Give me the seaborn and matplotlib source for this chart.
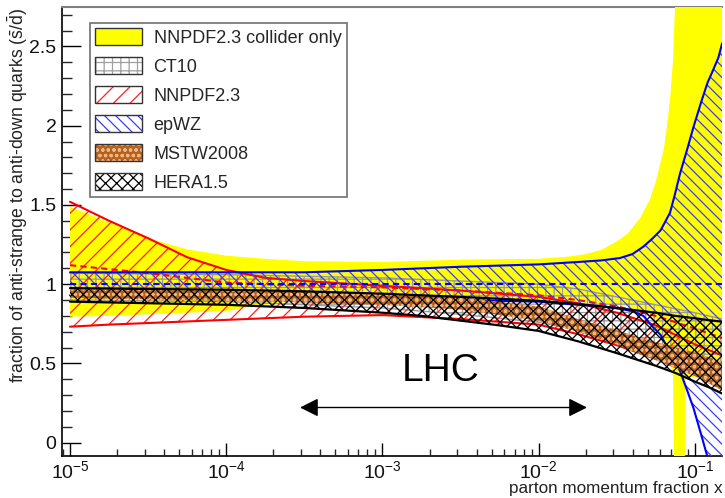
import numpy as np
import pandas as pd
import matplotlib
matplotlib.use("Agg")
import matplotlib.pyplot as plt
import seaborn as sns
from matplotlib.patches import Patch
from matplotlib.ticker import MultipleLocator, FuncFormatter, LogLocator

# ---------------- data (log10 x, ratio values) -------------
coll_logx = [-5, -4.75, -4.5, -4.25, -4, -3.75, -3.5, -3, -2.5, -2, -1.8, -1.7, -1.6, -1.5,
             -1.43, -1.35, -1.29, -1.25, -1.2, -1.18, -1.16, -1.14, -1.13, -1.065, -1.06,
             -1.0, -0.826]
coll_hi = [1.49, 1.39, 1.29, 1.22, 1.18, 1.16, 1.145, 1.14, 1.155, 1.16, 1.175, 1.19, 1.216,
           1.27, 1.32, 1.42, 1.53, 1.65, 1.85, 1.99, 2.16, 2.42, 2.7, 4.0, 4.0, 4.0, 4.0]
coll_lo = [0.795, 0.80, 0.81, 0.82, 0.83, 0.87, 0.90, 0.93, 0.92, 0.90, 0.89, 0.885, 0.88,
           0.87, 0.86, 0.83, 0.80, 0.72, 0.62, 0.56, 0.50, 0.42, -0.5, -0.5, 0.42, 0.41, 0.40]

ct10_logx = [-5, -4, -3, -2.5, -2, -1.75, -1.5, -1.25, -1, -0.826]
ct10_hi = [1.07, 1.06, 1.04, 1.02, 1.00, 0.97, 0.92, 0.87, 0.82, 0.78]
ct10_lo = [0.90, 0.89, 0.85, 0.81, 0.76, 0.71, 0.64, 0.56, 0.46, 0.38]

nnpdf_logx = [-5, -4.75, -4.5, -4.25, -4, -3.75, -3.5, -3, -2.5, -2, -1.75, -1.5, -1.25, -1, -0.826]
nnpdf_hi = [1.52, 1.40, 1.29, 1.17, 1.09, 1.04, 1.02, 0.99, 0.96, 0.92, 0.88, 0.82, 0.74, 0.62, 0.55]
nnpdf_lo = [0.732, 0.745, 0.755, 0.765, 0.775, 0.785, 0.795, 0.805, 0.78, 0.745, 0.685, 0.615, 0.53, 0.43, 0.34]
nnpdf_mid = [1.12, 1.095, 1.07, 1.04, 1.01, 1.0, 0.99, 0.98, 0.96, 0.93, 0.90, 0.86, 0.80, 0.72, 0.66]

epwz_logx = [-5, -4, -3.5, -3, -2.5, -2, -1.75, -1.6, -1.48, -1.4, -1.33, -1.27, -1.22, -1.16,
             -1.13, -1.095, -1.05, -1.01, -0.96, -0.92, -0.88, -0.85, -0.826]
epwz_hi = [1.075, 1.075, 1.075, 1.09, 1.11, 1.125, 1.14, 1.15, 1.165, 1.19, 1.237, 1.29, 1.34,
           1.45, 1.56, 1.70, 1.85, 1.99, 2.15, 2.27, 2.36, 2.43, 2.52]
epwz_lo = [0.93, 0.93, 0.92, 0.91, 0.90, 0.89, 0.87, 0.86, 0.845, 0.83, 0.80, 0.73, 0.68,
           0.57, 0.51, 0.45, 0.33, 0.22, 0.05, -0.09, -0.22, -0.35, -0.45]
epwz_mid = [1.0] * len(epwz_logx)

mstw_logx = [-5, -4, -3.5, -3, -2.5, -2, -1.75, -1.5, -1.375, -1.25, -1, -0.826]
mstw_hi = [0.975, 0.955, 0.95, 0.94, 0.915, 0.86, 0.78, 0.71, 0.67, 0.635, 0.57, 0.51]
mstw_lo = [0.915, 0.895, 0.885, 0.87, 0.84, 0.77, 0.70, 0.62, 0.565, 0.52, 0.42, 0.33]

hera_logx = [-5, -4.5, -4, -3.5, -3, -2.75, -2.5, -2.25, -2, -1.75, -1.5, -1.375, -1.25,
             -1.125, -1, -0.9, -0.826]
hera_hi = [0.975, 0.97, 0.965, 0.955, 0.94, 0.93, 0.92, 0.908, 0.895, 0.875, 0.85, 0.835,
           0.82, 0.80, 0.785, 0.772, 0.763]
hera_lo = [0.89, 0.88, 0.87, 0.85, 0.82, 0.80, 0.77, 0.74, 0.705, 0.64, 0.565, 0.525, 0.485,
           0.44, 0.385, 0.345, 0.31]

legend_labels = ["NNPDF2.3 collider only", "CT10", "NNPDF2.3", "epWZ", "MSTW2008", "HERA1.5"]
y_ticks = [0, 0.5, 1, 1.5, 2, 2.5]
lhc_logx = [-3.528, -1.691]
lhc_y = 0.222

# ---------------- style ----------------
sns.set_theme(style="ticks")
plt.rcParams["font.family"] = ["Liberation Sans", "DejaVu Sans"]
plt.rcParams["mathtext.fontset"] = "custom"
plt.rcParams["mathtext.rm"] = "Liberation Sans"
plt.rcParams["mathtext.it"] = "Liberation Sans:italic"
plt.rcParams["mathtext.default"] = "regular"
plt.rcParams["axes.unicode_minus"] = False
plt.rcParams["hatch.linewidth"] = 0.9

fig = plt.figure(figsize=(7.25, 4.98), dpi=100)
ax = fig.add_axes([62 / 725, 1 - 456 / 498, 660 / 725, 449 / 498])
ax.set_xscale("log")


def band(logx, lo, hi, face, hatchcol, hatch, z):
    x = 10 ** np.asarray(logx, dtype=float)
    ax.fill_between(x, lo, hi, facecolor=face, edgecolor=hatchcol, hatch=hatch,
                    linewidth=0, zorder=z)


def edge(logx, y, color, lw, z, ls="-"):
    df = pd.DataFrame({"x": 10 ** np.asarray(logx, dtype=float), "y": y})
    sns.lineplot(data=df, x="x", y="y", ax=ax, color=color, lw=lw, ls=ls,
                 estimator=None, sort=False, zorder=z)


# NNPDF2.3 collider only
band(coll_logx, coll_lo, coll_hi, "#ffff00", "#ffff00", None, 1)
# CT10
band(ct10_logx, ct10_lo, ct10_hi, "none", "#9a9a9a", "++", 2)
edge(ct10_logx, ct10_hi, "#9a9a9a", 1.0, 2.1)
edge(ct10_logx, ct10_lo, "#9a9a9a", 1.0, 2.1)
# NNPDF2.3
band(nnpdf_logx, nnpdf_lo, nnpdf_hi, "none", "#ff2020", "//", 3)
edge(nnpdf_logx, nnpdf_hi, "#ff0000", 1.5, 3.1)
edge(nnpdf_logx, nnpdf_lo, "#ff0000", 1.5, 3.1)
edge(nnpdf_logx, nnpdf_mid, "#ff0000", 1.5, 3.1, ls=(0, (3, 2)))
# epWZ
band(epwz_logx, epwz_lo, epwz_hi, "none", "#3c3cff", "\\\\\\", 4)
edge(epwz_logx, epwz_hi, "#0000ff", 1.5, 4.1)
edge(epwz_logx, epwz_lo, "#0000ff", 1.5, 4.1)
edge(epwz_logx, epwz_mid, "#0000ff", 1.5, 4.1, ls=(0, (3, 2)))
# MSTW2008
band(mstw_logx, mstw_lo, mstw_hi, "#b8601c", "#e8b888", "ooo", 5)
# HERA1.5
band(hera_logx, hera_lo, hera_hi, "none", "#000000", "xxx", 6)
edge(hera_logx, hera_hi, "#000000", 1.6, 6.1)
edge(hera_logx, hera_lo, "#000000", 1.6, 6.1)

# ---------------- axes ----------------
ax.set_xlim(10 ** -5.0512, 10 ** -0.827)
ax.set_ylim(-0.084, 2.749)
ax.set_xlabel("")
ax.set_ylabel("")
ax.yaxis.set_major_locator(MultipleLocator(0.5))
ax.yaxis.set_minor_locator(MultipleLocator(0.1))
ax.yaxis.set_major_formatter(FuncFormatter(lambda v, p: "%g" % v))
ax.set_yticks(y_ticks)
ax.xaxis.set_major_locator(LogLocator(base=10, numticks=10))
ax.xaxis.set_minor_locator(LogLocator(base=10, subs=np.arange(2, 10), numticks=20))
ax.tick_params(axis="y", which="major", direction="in", length=13.5, width=1.0, labelsize=14, pad=4)
ax.tick_params(axis="y", which="minor", direction="in", length=7, width=1.0)
ax.tick_params(axis="x", which="major", direction="in", length=9.5, width=1.0, labelsize=14, pad=3)
ax.tick_params(axis="x", which="minor", direction="in", length=5, width=1.0)
ax.tick_params(colors="black", labelcolor="#111111")
ax.set_axisbelow(True)
for s in ["left", "bottom"]:
    ax.spines[s].set_color("black")
    ax.spines[s].set_linewidth(1.2)
    ax.spines[s].set_zorder(0.5)
ax.spines["top"].set_color("#808080")
ax.spines["top"].set_linewidth(1.5)
ax.spines["top"].set_zorder(0.5)
ax.spines["right"].set_visible(False)

# LHC annotation
ax.annotate("", xy=(10 ** lhc_logx[0], lhc_y), xytext=(10 ** lhc_logx[1], lhc_y),
            arrowprops=dict(arrowstyle="<|-|>", color="black", lw=1.0,
                            mutation_scale=28, shrinkA=0, shrinkB=0), zorder=8)
ax.text(10 ** ((lhc_logx[0] + lhc_logx[1]) / 2 - 0.02), 0.45, "LHC", fontsize=28,
        ha="center", va="center", color="black", zorder=8)

# ---------------- legend ----------------
handles = [
    Patch(facecolor="#ffff00", edgecolor="#333333", lw=1.0),
    (Patch(facecolor="white", edgecolor="#a0a0a0", hatch="++", lw=0),
     Patch(facecolor="none", edgecolor="#333333", lw=1.0)),
    (Patch(facecolor="white", edgecolor="#ff2020", hatch="//", lw=0),
     Patch(facecolor="none", edgecolor="#333333", lw=1.0)),
    (Patch(facecolor="white", edgecolor="#3c3cff", hatch="\\\\\\", lw=0),
     Patch(facecolor="none", edgecolor="#333333", lw=1.0)),
    (Patch(facecolor="#b8601c", edgecolor="#e8b888", hatch="ooo", lw=0),
     Patch(facecolor="none", edgecolor="#333333", lw=1.0)),
    (Patch(facecolor="white", edgecolor="#000000", hatch="xxx", lw=0),
     Patch(facecolor="none", edgecolor="#333333", lw=1.0)),
]
leg = ax.legend(handles, legend_labels, loc="upper left", bbox_to_anchor=(0.0424, 0.965),
                borderaxespad=0, fontsize=13, handlelength=2.6, handleheight=1.05,
                handletextpad=0.62, labelspacing=0.58, borderpad=0.3, frameon=True,
                fancybox=False, framealpha=1, edgecolor="#707070")
leg.get_frame().set_linewidth(1.2)
leg.set_zorder(10)

# ---------------- axis titles ----------------
fig.text(18 / 725, 1 - 8 / 498, r"fraction of anti-strange to anti-down quarks ($\bar{s}/\bar{d}$)",
         rotation=90, ha="center", va="top", fontsize=12.7, color="#222222")
fig.text(723 / 725, 1 - 493 / 498, "parton momentum fraction x", ha="right", va="baseline",
         fontsize=12.3, color="#222222")

fig.savefig("out.png", dpi=100)
